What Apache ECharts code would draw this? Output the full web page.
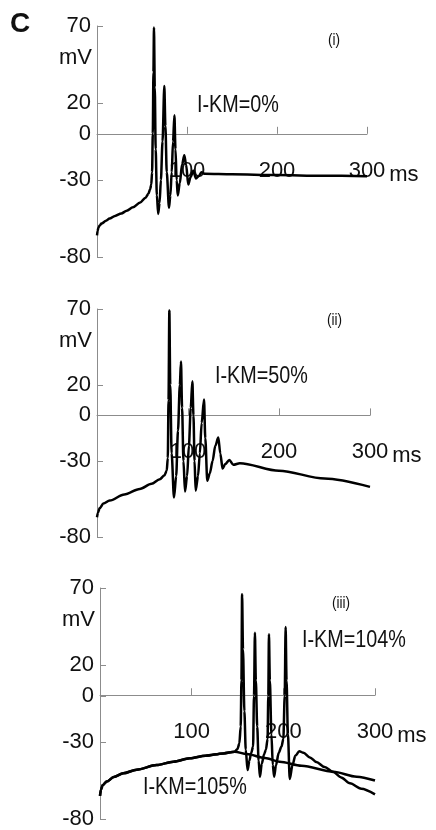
<!DOCTYPE html>
<html>
<head>
<meta charset="utf-8">
<style>
  html, body { margin: 0; padding: 0; background: #fff; }
  #main { width: 436px; height: 830px; }
</style>
<script src="https://cdn.jsdelivr.net/npm/echarts@6/dist/echarts.min.js"></script>
</head>
<body>
<div id="main"></div>
<script>
// panel (i) I-KM=0%
var tA = [0, 0.7, 1.5, 3, 5, 10, 14, 20, 27, 33, 40, 48, 54, 57, 59, 60.3, 61.2, 62, 62.7, 63.3, 64.2, 65.2, 66.5, 68, 69.5, 71, 72.8, 74.8, 76, 77.5, 80, 81.5, 83, 84.5, 86, 87.2, 88.5, 89.7, 92, 94.5, 97, 99, 101.4, 104, 107, 110, 113, 116, 120, 150, 200, 250, 300];
var vA = [-66, -63, -61, -59.5, -58.3, -56.5, -55, -53.3, -51.7, -50, -47.7, -44.6, -41.5, -39, -36, -33, -25, 0, 40, 69, 30, -10, -40, -52, -45, -30, -5, 31, 5, -25, -48, -40, -25, -5, 12, -10, -30, -40, -32, -20, -14, -20, -33, -28, -24, -29, -27.5, -25, -26, -26.3, -26.8, -27.2, -27.5];

// panel (ii) I-KM=50%
var tB = [0, 1, 3, 7, 14, 30, 47, 60, 69, 74, 76.6, 77.8, 78.6, 79.5, 80.5, 82, 84.6, 87, 89, 91, 92.3, 93.5, 95, 96.7, 99, 101, 103, 104.8, 106, 107.2, 108.4, 111, 113, 115, 117.6, 119, 121.2, 124, 127, 130, 133.3, 135.5, 138, 141, 145.4, 149.8, 157, 200, 250, 300];
var vB = [-67, -64, -61, -58, -56, -52, -48.4, -45, -42, -39.5, -36.4, -28, 10, 69, 20, -25, -54, -40, -10, 20, 35.5, 5, -30, -50, -40, -20, 5, 22.4, 0, -30, -49.5, -40, -25, -5, 10.5, -15, -43, -38, -30, -20, -14.6, -25, -35, -32, -29.4, -32.5, -31.4, -36.4, -41.5, -47];

// panel (iii) I-KM=105%
var tC = [0, 1, 3, 7.3, 15, 25.4, 40, 61.8, 80, 98, 115, 134.5, 147, 160, 180, 196, 220, 254.5, 280, 300];
var vC = [-65, -61, -58, -55.7, -52.8, -50.3, -48, -45, -42.8, -40.6, -38.9, -37.4, -36.3, -37.8, -40.4, -42.8, -45.4, -49.3, -52.5, -55];

// panel (iii) I-KM=104%
var tD = [0, 1, 3, 7.3, 15, 25.4, 40, 61.8, 80, 98, 115, 134.5, 147, 150, 152, 153.5, 154.3, 155, 156, 157.5, 159, 161, 163, 165, 167, 168, 169, 170, 171.5, 173, 174.5, 176.5, 179, 181, 182.8, 183.6, 184.3, 185.3, 187, 188.5, 190, 192, 195, 198, 200, 201.5, 202.5, 203.5, 205, 207, 210, 213, 217.4, 222, 229, 236, 245, 254.5, 263, 272.7, 285, 300];
var vD = [-65, -61, -58, -55.7, -52.8, -50.3, -48, -45, -42.8, -40.6, -38.9, -37.4, -36.3, -34.5, -31, -20, 10, 66, 30, -10, -35, -48.2, -42, -37, -33, 0, 41, 10, -20, -42, -52.5, -44, -38, -35, -28, 0, 40, 10, -25, -45, -52.5, -45, -37, -33, -28, 0, 44.7, 10, -25, -54, -45, -39, -36, -37, -40, -43, -46.3, -49.5, -53, -56.8, -60.3, -64];

var yTicks = [70, 20, 0, -30, -80];
var xTicks = [100, 200, 300];
var panelTags = ['(i)', '(ii)', '(iii)'];

function zip(t, v) {
    return t.map(function (x, i) { return [x, v[i]]; });
}

var sans = "'Liberation Sans', Arial, sans-serif";
var axisGray = '#8c8c8c';
var yMin = -80, yMax = 70;

var grids = [
    { left: 97, top: 26, width: 270, height: 231 },
    { left: 97, top: 309, width: 273, height: 228 },
    { left: 100, top: 588, width: 275, height: 232 }
];

var xAxes = grids.map(function (g, i) {
    return {
        type: 'value',
        gridIndex: i,
        min: 0,
        max: 300,
        interval: 100,
        // put the time axis on the 0 mV line
        offset: -g.height * (0 - yMin) / (yMax - yMin),
        axisLine: { onZero: false, lineStyle: { color: axisGray, width: 1 } },
        axisTick: { inside: true, length: 7, customValues: xTicks, lineStyle: { color: axisGray } },
        axisLabel: {
            customValues: xTicks,
            margin: 26,
            color: '#111',
            fontSize: 22,
            fontFamily: sans
        },
        splitLine: { show: false },
        name: 'ms',
        nameLocation: 'end',
        nameGap: 10,
        nameTextStyle: {
            color: '#111', fontSize: 22, fontFamily: sans,
            align: 'left', verticalAlign: 'top', padding: [30, 0, 0, 0]
        }
    };
});

var yAxes = grids.map(function (g, i) {
    return {
        type: 'value',
        gridIndex: i,
        min: yMin,
        max: yMax,
        axisLine: { show: true, onZero: false, lineStyle: { color: axisGray, width: 1 } },
        axisTick: { show: true, inside: true, length: 6, customValues: yTicks, lineStyle: { color: axisGray } },
        axisLabel: {
            customValues: yTicks,
            margin: 6,
            color: '#111',
            fontSize: 22,
            fontFamily: sans
        },
        splitLine: { show: false },
        name: 'mV',
        nameLocation: 'end',
        nameGap: -32,
        nameTextStyle: {
            color: '#111', fontSize: 22, fontFamily: sans,
            align: 'right', verticalAlign: 'middle', padding: [0, 5, 0, 0]
        }
    };
});

function trace(data, i) {
    return {
        type: 'line',
        xAxisIndex: i,
        yAxisIndex: i,
        data: data,
        showSymbol: false,
        smooth: 0.3,
        smoothMonotone: 'x',
        lineStyle: { color: '#000', width: 2.5 },
        animation: false
    };
}

function txt(s, x, y, size, sx, bold) {
    return {
        type: 'text',
        x: x,
        y: y,
        scaleX: sx,
        style: {
            text: s,
            fill: '#111',
            fontSize: size,
            fontWeight: bold ? 'bold' : 'normal',
            fontFamily: sans,
            align: 'left',
            verticalAlign: 'middle'
        }
    };
}

var option = {
    backgroundColor: '#fff',
    animation: false,
    grid: grids,
    xAxis: xAxes,
    yAxis: yAxes,
    series: [
        trace(zip(tA, vA), 0),
        trace(zip(tB, vB), 1),
        trace(zip(tC, vC), 2),
        trace(zip(tD, vD), 2)
    ],
    graphic: [
        txt('C', 10, 24, 28, 1, true),
        txt(panelTags[0], 328, 40, 17, 0.8),
        txt(panelTags[1], 327, 320, 17, 0.8),
        txt(panelTags[2], 332, 603, 17, 0.8),
        txt('I-KM=0%', 197, 106, 23, 0.86),
        txt('I-KM=50%', 215, 377, 23, 0.86),
        txt('I-KM=104%', 302, 641, 23, 0.86),
        txt('I-KM=105%', 143, 788, 23, 0.86)
    ]
};

var chart = echarts.init(document.getElementById('main'));
chart.setOption(option);
</script>
</body>
</html>
